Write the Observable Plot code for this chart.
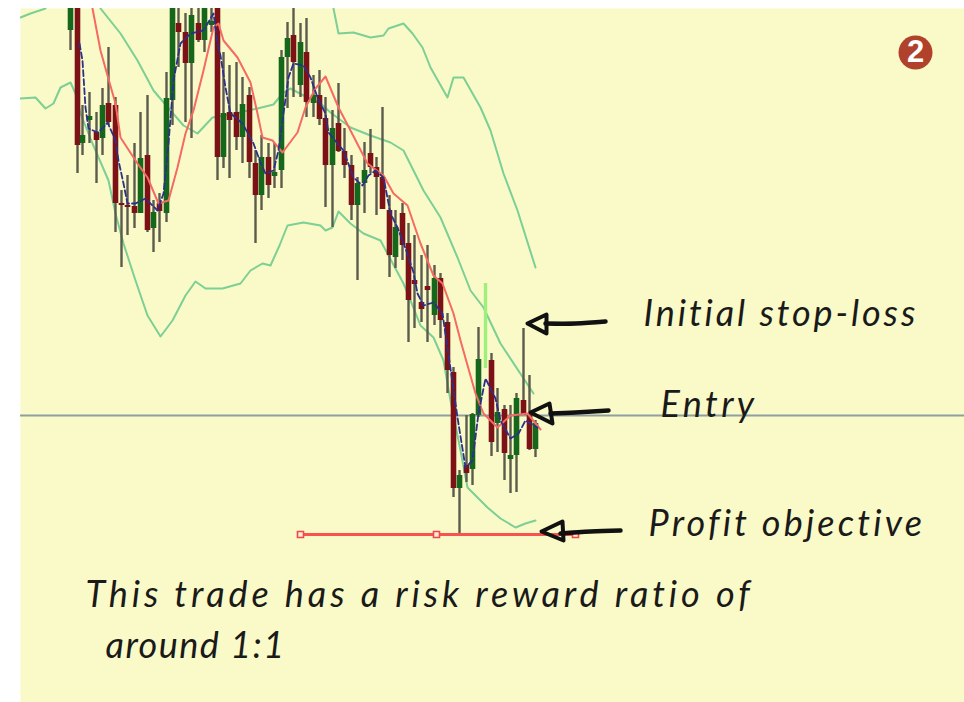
<!DOCTYPE html>
<html><head><meta charset="utf-8">
<script src="https://cdn.jsdelivr.net/npm/d3@7"></script>
<script src="https://cdn.jsdelivr.net/npm/@observablehq/plot@0.6"></script>
<style>html,body{margin:0;padding:0;background:#fff}svg{display:block}</style>
</head><body><div id="chart"></div>
<script>
const barX   = [70,77,82,89,96,102,108,115,121,127,134,140,147,153,159,166,172,178,185,191,198,204,211,217,223,229,236,242,249,255,261,268,274,281,287,293,300,306,313,319,325,332,338,344,351,357,364,370,376,382,389,395,402,408,414,421,427,434,440,447,453,459,466,472,478,491,497,504,510,516,523,529,535];
const wickHi = [0,0,105,92,112,88,47,97,190,175,143,112,95,200,193,72,0,0,13,0,0,0,0,0,52,65,62,77,87,150,135,143,143,50,22,0,23,18,75,70,97,110,83,128,155,177,142,129,157,107,195,210,203,223,235,255,245,265,273,313,367,470,415,413,327,353,388,405,405,393,328,375,420];
const wickLo = [50,173,155,143,183,155,125,232,267,235,228,213,232,252,242,222,125,67,122,138,42,52,32,180,168,178,150,163,178,243,210,198,188,188,108,97,97,117,117,125,207,227,152,178,220,280,213,173,215,209,277,268,260,342,328,322,342,325,338,393,497,533,482,485,417,456,452,480,493,492,415,450,457];
const open   = [30,8,143,120,132,138,103,105,203,205,206,213,155,228,203,213,100,23,32,63,23,40,25,8,157,112,112,137,95,163,195,157,176,170,57,35,85,52,103,95,118,165,123,151,165,205,183,153,167,177,210,257,213,243,280,302,286,315,278,322,372,488,465,469,415,360,423,409,459,455,400,415,449];
const close  = [8,145,135,116,140,105,122,203,205,207,213,158,230,212,211,98,8,32,63,15,40,8,21,157,113,120,137,104,162,195,157,185,172,57,38,62,42,102,95,119,165,128,151,165,205,183,170,167,177,209,255,227,245,300,284,309,290,278,320,370,488,475,473,414,359,442,412,453,455,398,415,449,423];
// Bollinger-style bands and moving averages as [x, level] pairs
const bandUpperA = [[20,17],[30,13],[45,8]];
const bandLower = [[20,98],[35,97],[45,108],[53,103],[60,87],[70,82],[75,93],[80,113],[92,143],[108,180],[115,213],[123,243],[135,280],[147,315],[160,336],[172,320],[185,295],[195,281],[205,288],[222,288],[240,283],[250,270],[262,263],[270,265],[279,245],[287,225],[303,222],[320,225],[325,230],[332,227],[338,211],[350,223],[363,233],[380,240],[388,255],[403,283],[410,300],[420,325],[433,337],[443,360],[450,400],[460,450],[467,487],[487,507],[500,518],[515,527],[525,523],[535,520]];
const bandMiddle = [[100,8],[120,33],[137,60],[153,90],[170,110],[183,125],[197,133],[212,117],[235,113],[257,108],[273,104],[282,93],[290,88],[303,95],[320,103],[330,112],[350,127],[370,135],[390,142],[403,150],[423,190],[440,217],[457,257],[470,290],[483,307],[500,343],[533,393]];
const bandUpperB = [[333,8],[338,33],[353,32],[370,37],[383,35],[388,28],[403,23],[412,33],[422,47],[430,67],[447,97],[453,77],[463,77],[480,107],[490,130],[503,173],[517,210],[535,267]];
const redMA = [[92,8],[100,50],[107,75],[115,103],[120,137],[137,163],[147,177],[158,203],[168,200],[177,167],[185,133],[193,110],[203,70],[213,27],[218,23],[223,40],[237,57],[250,82],[257,113],[262,137],[272,140],[282,152],[297,132],[305,107],[315,88],[325,76],[338,107],[350,130],[367,163],[383,175],[393,193],[407,205],[420,243],[433,275],[442,283],[453,313],[460,340],[475,393],[483,413],[497,427],[510,415],[527,413],[540,429]];
const blueMA = [[79,43],[82,60],[85,107],[88,128],[97,132],[102,128],[107,122],[115,140],[118,160],[123,183],[127,203],[135,203],[145,198],[157,210],[163,193],[168,143],[173,80],[180,43],[190,33],[203,30],[213,13],[217,43],[220,55],[225,87],[230,113],[242,123],[253,143],[260,162],[265,173],[273,170],[278,150],[283,113],[288,77],[293,63],[303,65],[310,77],[317,97],[325,113],[328,132],[337,143],[343,150],[353,177],[362,185],[368,175],[375,170],[383,177],[390,213],[397,227],[405,248],[413,272],[417,293],[423,305],[433,302],[442,313],[450,368],[457,417],[465,467],[472,460],[478,413],[485,378],[495,398],[500,420],[510,438],[518,433],[525,420],[537,427]];
const spike = [{x:485,y1:283,y2:368}];
const entryLine = [415];
const objectiveLine = [[300,534],[575,534]];
const handles = [[300,534],[436,534],[575,534]];
const arrowShafts = [
  [[605,321],[575,323],[545,323]],
  [[608,410],[575,412],[550,413]],
  [[620,530],[590,531],[560,533]]
];
const arrowHeads = [
  [[527,323],[546,314],[546,333],[527,323]],
  [[530,412],[549,403],[552,423],[530,412]],
  [[541,531],[562,521],[563,540],[541,531]]
];
const notes = [
  {text:"Initial stop-loss", x:643, y:325},
  {text:"Entry", x:660, y:416},
  {text:"Profit objective", x:648, y:535},
  {text:"This trade has a risk reward ratio of", x:85, y:606},
  {text:"around 1:1", x:105, y:657}
];
const noteSpacing = [2.9,3.4,3.2,3.9,1.5];
const badge = {x:915, y:52, label:"2"};

const bars = barX.map((x,i)=>({x,hi:wickHi[i],lo:wickLo[i],open:open[i],close:close[i]}));
const GREEN="#15671b", RED="#7c1116";
const lineMark=(d,o)=>Plot.line(d,{x:p=>p[0],y:p=>p[1],...o});
const blur="blur(0.6px)";
const BAND={stroke:"#7ccf95",strokeWidth:2,clip:true};

const chart = Plot.plot({
  width:964,height:702,
  marginLeft:20,marginTop:8,marginRight:0,marginBottom:0,
  x:{domain:[20,964],axis:null},
  y:{domain:[8,702],axis:null,range:[8,702]},
  style:{background:"#ffffff"},
  marks:[
    Plot.frame({fill:"#fafac8",stroke:null}),
    Plot.ruleY(entryLine,{stroke:"#8f9e9f",strokeWidth:2}),
    lineMark(bandUpperA,BAND),
    lineMark(bandLower,BAND),
    lineMark(bandMiddle,BAND),
    lineMark(bandUpperB,BAND),
    Plot.ruleX(spike,{x:"x",y1:"y1",y2:"y2",stroke:"#9df07c",strokeWidth:3.4,imageFilter:blur}),
    Plot.ruleX(bars,{x:"x",y1:"hi",y2:"lo",stroke:"#5b5b4e",strokeWidth:2.4,clip:true,imageFilter:blur}),
    Plot.ruleX(bars,{x:"x",y1:"open",y2:"close",stroke:d=>d.close<d.open?GREEN:RED,strokeWidth:5.6,clip:true,imageFilter:blur}),
    lineMark(redMA,{stroke:"#f56a62",strokeWidth:2,clip:true,imageFilter:blur}),
    lineMark(blueMA,{stroke:"#2c2f8c",strokeWidth:1.8,strokeDasharray:"6 3",clip:true,imageFilter:blur}),
    lineMark(objectiveLine,{stroke:"#f9534d",strokeWidth:3}),
    Plot.dot(handles,{x:p=>p[0],y:p=>p[1],symbol:"square",r:3.4,fill:"#fde8e0",stroke:"#ee4a46",strokeWidth:1.6}),
    ...arrowShafts.map(d=>lineMark(d,{stroke:"#111",strokeWidth:4.5,curve:"natural"})),
    ...arrowHeads.map(d=>lineMark(d,{stroke:"#111",strokeWidth:4,strokeLinejoin:"round"})),
    Plot.text(notes,{x:"x",y:"y",text:"text",textAnchor:"start",lineAnchor:"bottom",fontFamily:"Lato",fontStyle:"italic",fontSize:36,fill:"#1a1a1a",className:"note"}),
    Plot.dot([badge],{x:"x",y:"y",r:17,fill:"#b0412a"}),
    Plot.text([badge],{x:"x",y:"y",text:"label",fontFamily:"Liberation Sans",fontWeight:"bold",fontSize:31,fill:"#fff"})
  ]
});
document.getElementById("chart").append(chart);
d3.select(chart).selectAll("g.note text").style("letter-spacing",(d,i)=>noteSpacing[i]+"px");
</script></body></html>
